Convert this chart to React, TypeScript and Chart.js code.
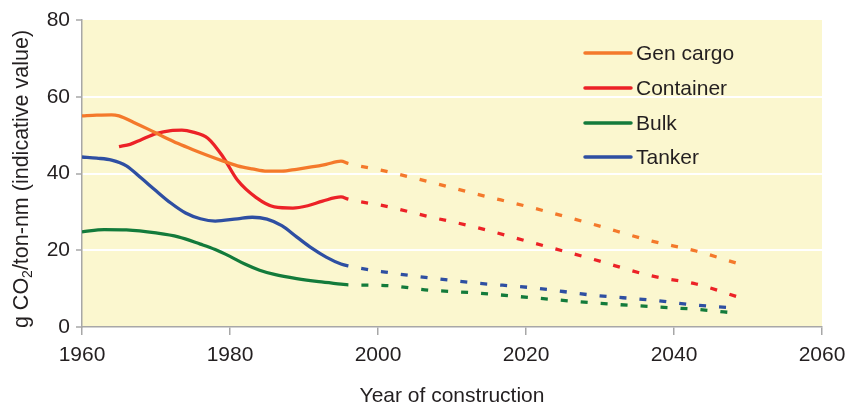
import React, { useEffect, useRef } from "react";
import { Chart, registerables } from "chart.js";

Chart.register(...registerables);

// ---- data ----
const X_TICKS = [1960, 1980, 2000, 2020, 2040, 2060];
const Y_TICKS = [0, 20, 40, 60, 80];
const FORECAST_FROM = 1996;

const SERIES_NAMES = ["Gen cargo", "Container", "Bulk", "Tanker"];
const SERIES_COLORS = ["#f4792b", "#ec2227", "#137b3b", "#2e4fa2"];

const GEN_CARGO_YEARS = [1960, 1962, 1964, 1965, 1967, 1969, 1971, 1973, 1975, 1977, 1979, 1981, 1983, 1985, 1987, 1989, 1991, 1993, 1995, 1996, 2001, 2007, 2013, 2021, 2029, 2037, 2043, 2048.5];
const GEN_CARGO_VALUES = [55, 55.2, 55.3, 55, 53.3, 51.5, 49.6, 47.8, 46.2, 44.7, 43.3, 42, 41.2, 40.6, 40.6, 41.1, 41.7, 42.4, 43.2, 42.6, 40.6, 37.8, 34.8, 31, 26.8, 22.4, 19.8, 16.6];

const CONTAINER_YEARS = [1965, 1966.5, 1968, 1970, 1972, 1973.5, 1975, 1977, 1979, 1981, 1983.5, 1986, 1988.5, 1990.5, 1992.5, 1995, 1996, 2001, 2007, 2013, 2021, 2029, 2037, 2043, 2048.5];
const CONTAINER_VALUES = [47, 47.6, 48.8, 50.4, 51.2, 51.3, 50.8, 49.2, 44.5, 38.3, 33.8, 31.3, 31, 31.6, 32.8, 33.9, 33.3, 31.5, 28.7, 26.1, 21.9, 17.7, 13.3, 11.2, 7.9];

const BULK_YEARS = [1960, 1963, 1966, 1970, 1973, 1976, 1978, 1980, 1982, 1984, 1986, 1989, 1992, 1995, 1996, 2001, 2007, 2013, 2021, 2029, 2037, 2043, 2048.5];
const BULK_VALUES = [24.8, 25.4, 25.3, 24.5, 23.5, 21.6, 20.2, 18.4, 16.4, 14.8, 13.7, 12.6, 11.8, 11.2, 11.0, 10.8, 9.6, 8.9, 7.6, 6.3, 5.3, 4.6, 3.6];

const TANKER_YEARS = [1960, 1962, 1964, 1966, 1968, 1970, 1972, 1974, 1976, 1978, 1981, 1983, 1985, 1987, 1989, 1991, 1993, 1995, 1996, 2001, 2007, 2013, 2021, 2029, 2037, 2043, 2048.5];
const TANKER_VALUES = [44.3, 44, 43.5, 42, 38.8, 35.5, 32.3, 29.7, 28.2, 27.6, 28.2, 28.6, 28.1, 26.4, 23.5, 20.6, 18.2, 16.4, 15.9, 14.3, 12.8, 11.5, 10.2, 8.3, 7, 5.7, 4.9];

const X_TITLE = "Year of construction";
const Y_TITLE_PARTS = ["g CO", "2", "/ton-nm (indicative value)"];

const FONT = "'Liberation Sans', Arial, Helvetica, sans-serif";
const TEXT = "#231f20";
const AXIS = "#a7a7a7";

const SERIES = [
  [GEN_CARGO_YEARS, GEN_CARGO_VALUES],
  [CONTAINER_YEARS, CONTAINER_VALUES],
  [BULK_YEARS, BULK_VALUES],
  [TANKER_YEARS, TANKER_VALUES],
];

const decorPlugin = {
  id: "decor",
  beforeDraw(chart: any) {
    const { ctx, chartArea: a } = chart;
    ctx.save();
    ctx.fillStyle = "#fbf7cf";
    ctx.fillRect(a.left, a.top, a.right - a.left, a.bottom - a.top);
    ctx.restore();
  },
  afterDraw(chart: any) {
    const { ctx, chartArea: a } = chart;
    ctx.save();
    ctx.fillStyle = TEXT;
    // x title
    ctx.font = `21px ${FONT}`;
    ctx.textAlign = "center";
    ctx.textBaseline = "middle";
    ctx.fillText(X_TITLE, (a.left + a.right) / 2, 396);
    // y title with subscript
    ctx.translate(22, 179);
    ctx.rotate(-Math.PI / 2);
    ctx.textAlign = "left";
    const big = `21.5px ${FONT}`;
    const small = `14px ${FONT}`;
    ctx.font = big;
    const w1 = ctx.measureText(Y_TITLE_PARTS[0]).width;
    const w3 = ctx.measureText(Y_TITLE_PARTS[2]).width;
    ctx.font = small;
    const w2 = ctx.measureText(Y_TITLE_PARTS[1]).width;
    const x0 = -(w1 + w2 + w3) / 2;
    ctx.font = big;
    ctx.fillText(Y_TITLE_PARTS[0], x0, 0);
    ctx.font = small;
    ctx.fillText(Y_TITLE_PARTS[1], x0 + w1, 6);
    ctx.font = big;
    ctx.fillText(Y_TITLE_PARTS[2], x0 + w1 + w2, 0);
    ctx.restore();

    // legend
    ctx.save();
    const rows = [53, 88, 123, 157];
    ctx.font = `21px ${FONT}`;
    ctx.textBaseline = "middle";
    ctx.textAlign = "left";
    SERIES_NAMES.forEach((name, i) => {
      ctx.strokeStyle = SERIES_COLORS[i];
      ctx.lineWidth = 3.5;
      ctx.lineCap = "round";
      ctx.beginPath();
      ctx.moveTo(585, rows[i]);
      ctx.lineTo(631, rows[i]);
      ctx.stroke();
      ctx.fillStyle = TEXT;
      ctx.fillText(name, 636, rows[i] + 1);
    });
    ctx.restore();
  },
};

export default function App() {
  const ref = useRef<HTMLCanvasElement | null>(null);
  useEffect(() => {
    if (!ref.current) return;
    const datasets = SERIES.map(([yrs, vals], i) => ({
      label: SERIES_NAMES[i],
      data: (yrs as number[]).map((x, j) => ({ x, y: (vals as number[])[j] })),
      borderColor: SERIES_COLORS[i],
      backgroundColor: SERIES_COLORS[i],
      borderWidth: 3.3,
      pointRadius: 0,
      pointHoverRadius: 0,
      cubicInterpolationMode: "monotone" as const,
      borderCapStyle: "butt" as const,
      segment: {
        borderDash: (c: any) => (c.p0.parsed.x >= FORECAST_FROM ? [7, 13] : undefined),
        borderDashOffset: (c: any) => (c.p0.parsed.x >= FORECAST_FROM ? 7 : 0),
      },
    }));
    const chart = new Chart(ref.current, {
      type: "line",
      data: { datasets },
      plugins: [decorPlugin],
      options: {
        animation: false,
        responsive: false,
        devicePixelRatio: 1,
        layout: { padding: { left: 0, right: 24, top: 20, bottom: 0 } },
        plugins: { legend: { display: false }, tooltip: { enabled: false } },
        scales: {
          x: {
            type: "linear",
            min: X_TICKS[0],
            max: X_TICKS[X_TICKS.length - 1],
            afterBuildTicks: (s: any) => {
              s.ticks = X_TICKS.map((v) => ({ value: v }));
            },
            afterFit: (s: any) => {
              s.height = 81;
              s.paddingLeft = 0;
              s.paddingRight = 0;
            },
            ticks: {
              callback: (v: any) => String(v),
              color: TEXT,
              font: { family: FONT, size: 21 },
              padding: 8,
              maxRotation: 0,
            },
            grid: {
              drawOnChartArea: false,
              color: AXIS,
              lineWidth: 1.5,
              tickLength: 8,
            },
            border: { color: AXIS, width: 1.5 },
          },
          y: {
            min: Y_TICKS[0],
            max: Y_TICKS[Y_TICKS.length - 1],
            afterBuildTicks: (s: any) => {
              s.ticks = Y_TICKS.map((v) => ({ value: v }));
            },
            afterFit: (s: any) => {
              s.width = 82;
              s.paddingTop = 0;
              s.paddingBottom = 0;
            },
            ticks: {
              callback: (v: any) => String(v),
              color: TEXT,
              font: { family: FONT, size: 21 },
              padding: 6,
            },
            grid: {
              color: (c: any) =>
                c.tick && (c.tick.value === 0 || c.tick.value === 80) ? "rgba(0,0,0,0)" : "#ffffff",
              lineWidth: 2,
              tickColor: AXIS,
              tickWidth: 1.5,
              tickLength: 6,
            },
            border: { color: AXIS, width: 1.5 },
          },
        },
      },
    });
    return () => chart.destroy();
  }, []);
  return (
    <div style={{ position: "absolute", left: 0, top: 0, width: 846, height: 408, background: "#ffffff" }}>
      <canvas ref={ref} width={846} height={408} style={{ width: 846, height: 408, display: "block" }} />
    </div>
  );
}
